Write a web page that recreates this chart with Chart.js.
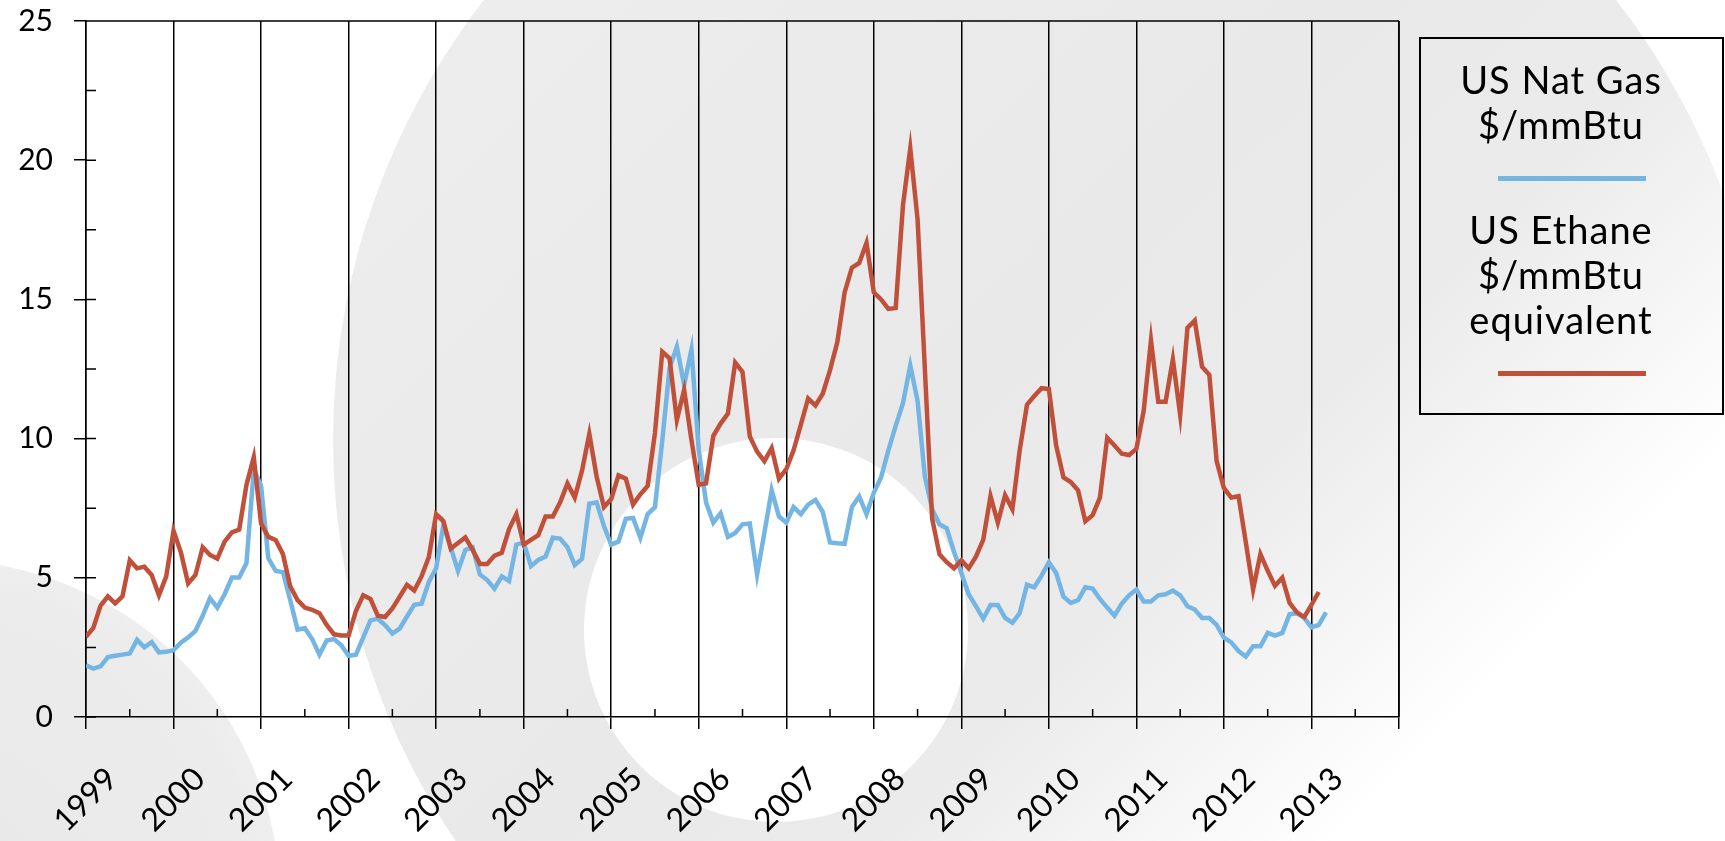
<!DOCTYPE html>
<html>
<head>
<meta charset="utf-8">
<script src="https://cdn.jsdelivr.net/npm/chart.js@4.4.1/dist/chart.umd.min.js"></script>
<style>
  html, body { margin: 0; padding: 0; background: #fff; }
  #wrap { position: relative; width: 1725px; height: 841px; overflow: hidden; background: #fff;
          font-family: Lato, "Open Sans", sans-serif; }
  .bg { position: absolute; border-radius: 50%; }
  #bgBig { left: 333px; top: -277px; width: 1434px; height: 1434px;
           background: linear-gradient(135deg, #efefef 0%, #e9e9e9 45%, #ebebeb 58%, #f6f6f6 67%, #ffffff 74%); }
  #bgHole { left: 584px; top: 438px; width: 384px; height: 384px;
            background: radial-gradient(circle, #ffffff 0, #ffffff 82%, rgba(255,255,255,0) 100%); }
  #bgLeft { left: -400px; top: 560px; width: 680px; height: 680px;
            background: radial-gradient(circle, #e8e8e8 0, #ececec 65%, #f5f5f5 88%, rgba(255,255,255,0) 100%); }
  #c { position: absolute; left: 0; top: 0; }
  #legendBox {
    position: absolute; left: 1419px; top: 37px; width: 305px; height: 378px;
    box-sizing: border-box; border: 2px solid #000;
  }
  .lg { position: absolute; left: 1419px; width: 284px; text-align: center;
        font-size: 38px; line-height: 45px; letter-spacing: 1px; color: #000; white-space: nowrap; }
  .sw { position: absolute; left: 1498px; width: 148px; height: 5px; }
</style>
</head>
<body>
<div id="wrap">
  <div class="bg" id="bgBig"></div>
  <div class="bg" id="bgHole"></div>
  <div class="bg" id="bgLeft"></div>
  <canvas id="c" width="1725" height="841"></canvas>
  <div id="legendBox"></div>
  <div class="lg" style="top:57px">US Nat Gas</div>
  <div class="lg" style="top:102px">$/mmBtu</div>
  <div class="sw" id="swBlue" style="top:176px"></div>
  <div class="lg" style="top:207px">US Ethane</div>
  <div class="lg" style="top:252px">$/mmBtu</div>
  <div class="lg" style="top:297px">equivalent</div>
  <div class="sw" id="swRed" style="top:371px"></div>
</div>
<script>
// ---- data (monthly, starting January 1999) ----
const startYear = 1999;
const yearTicks = [1999, 2000, 2001, 2002, 2003, 2004, 2005, 2006, 2007, 2008, 2009, 2010, 2011, 2012, 2013];

// US Nat Gas $/mmBtu, Jan 1999 .. Mar 2013
const natGas = [
  1.86, 1.74, 1.82, 2.15, 2.20, 2.24, 2.28, 2.77, 2.50, 2.69, 2.32, 2.34,   // 1999
  2.40, 2.67, 2.86, 3.09, 3.64, 4.27, 3.93, 4.41, 5.01, 5.01, 5.53, 8.90,   // 2000
  8.30, 5.70, 5.25, 5.20, 4.20, 3.14, 3.19, 2.80, 2.24, 2.75, 2.80, 2.58,   // 2001
  2.20, 2.24, 2.85, 3.47, 3.53, 3.30, 3.00, 3.17, 3.61, 4.03, 4.07, 4.85,   // 2002
  5.34, 6.90, 6.10, 5.25, 6.00, 6.10, 5.12, 4.92, 4.61, 5.05, 4.88, 6.19,   // 2003
  6.27, 5.42, 5.64, 5.76, 6.44, 6.41, 6.10, 5.46, 5.68, 7.66, 7.71, 6.86,   // 2004
  6.19, 6.30, 7.12, 7.15, 6.44, 7.29, 7.54, 9.92, 12.54, 13.30, 11.93, 13.20, // 2005
  9.60, 7.71, 6.98, 7.32, 6.47, 6.61, 6.92, 6.95, 5.12, 6.61, 8.14, 7.20,   // 2006
  6.98, 7.54, 7.29, 7.63, 7.80, 7.37, 6.27, 6.24, 6.22, 7.54, 7.92, 7.29,   // 2007
  8.05, 8.61, 9.58, 10.46, 11.27, 12.63, 11.36, 8.64, 7.46, 6.92, 6.78, 5.93, // 2008
  5.17, 4.41, 3.98, 3.53, 4.02, 4.02, 3.56, 3.39, 3.73, 4.75, 4.66, 5.08,   // 2009
  5.56, 5.17, 4.32, 4.10, 4.20, 4.66, 4.61, 4.24, 3.93, 3.64, 4.07, 4.37,   // 2010
  4.58, 4.15, 4.15, 4.37, 4.41, 4.54, 4.37, 3.98, 3.86, 3.56, 3.56, 3.31,   // 2011
  2.85, 2.68, 2.37, 2.17, 2.54, 2.54, 3.02, 2.92, 3.02, 3.69, 3.73, 3.56,   // 2012
  3.22, 3.31, 3.76                                                          // 2013
];

// US Ethane $/mmBtu equivalent, Jan 1999 .. Feb 2013
const ethane = [
  2.88, 3.20, 4.00, 4.33, 4.08, 4.33, 5.63, 5.34, 5.40, 5.10, 4.37, 5.05,   // 1999
  6.69, 5.92, 4.80, 5.10, 6.10, 5.82, 5.69, 6.30, 6.63, 6.73, 8.34, 9.33,   // 2000
  6.95, 6.47, 6.36, 5.85, 4.69, 4.20, 3.93, 3.85, 3.73, 3.31, 2.97, 2.93,   // 2001
  2.93, 3.81, 4.37, 4.24, 3.64, 3.59, 3.90, 4.32, 4.75, 4.54, 5.05, 5.75,   // 2002
  7.29, 7.03, 6.05, 6.25, 6.45, 6.00, 5.50, 5.50, 5.80, 5.90, 6.75, 7.29,   // 2003
  6.19, 6.36, 6.53, 7.20, 7.20, 7.71, 8.39, 7.88, 8.85, 10.17, 8.64, 7.54,  // 2004
  7.83, 8.68, 8.56, 7.63, 8.00, 8.30, 10.20, 13.12, 12.88, 10.67, 11.75, 9.95, // 2005
  8.34, 8.39, 10.10, 10.54, 10.90, 12.73, 12.40, 10.08, 9.53, 9.19, 9.66, 8.56, // 2006
  8.90, 9.58, 10.50, 11.44, 11.19, 11.61, 12.46, 13.47, 15.25, 16.14, 16.31, 17.03, // 2007
  15.25, 15.00, 14.66, 14.69, 18.39, 20.42, 17.88, 12.50, 7.12, 5.85, 5.56, 5.34,  // 2008
  5.63, 5.34, 5.76, 6.36, 7.93, 6.98, 7.97, 7.46, 9.58, 11.22, 11.53, 11.81,  // 2009
  11.78, 9.75, 8.61, 8.44, 8.14, 7.03, 7.25, 7.88, 10.03, 9.75, 9.46, 9.41,  // 2010
  9.63, 11.00, 13.53, 11.32, 11.32, 12.85, 10.85, 13.98, 14.24, 12.58, 12.29, 9.19, // 2011
  8.22, 7.88, 7.93, 6.27, 4.58, 5.85, 5.25, 4.71, 5.00, 4.10, 3.76, 3.59,  // 2012
  4.03, 4.49                                                               // 2013
];

const BLUE = '#74b5e4';
const RED = '#c0503a';
document.getElementById('swBlue').style.background = BLUE;
document.getElementById('swRed').style.background = RED;

const toPoints = arr => arr.map((v, i) => ({ x: startYear + i / 12, y: v }));

// frame + minor tick marks, positioned through the chart's own scales
const framePlugin = {
  id: 'frame',
  afterDraw(chart) {
    const { ctx, chartArea: a, scales: { x, y } } = chart;
    ctx.save();
    ctx.strokeStyle = '#000';
    ctx.lineWidth = 1.5;
    ctx.beginPath();
    ctx.moveTo(a.left, a.top); ctx.lineTo(a.right, a.top);
    ctx.moveTo(a.right, a.top); ctx.lineTo(a.right, a.bottom);
    for (let v = y.min; v <= y.max + 1e-9; v += 2.5) {
      const py = y.getPixelForValue(v);
      ctx.moveTo(a.left, py); ctx.lineTo(a.left + 10, py);
    }
    for (let v = x.min + 0.5; v < x.max; v += 1) {
      const px = x.getPixelForValue(v);
      ctx.moveTo(px, a.bottom); ctx.lineTo(px, a.bottom - 8);
    }
    ctx.stroke();
    ctx.restore();
  }
};

new Chart(document.getElementById('c'), {
  type: 'line',
  data: {
    datasets: [
      { label: 'US Nat Gas $/mmBtu', data: toPoints(natGas), borderColor: BLUE, borderWidth: 4.5,
        pointRadius: 0, fill: false, tension: 0, order: 2, borderJoinStyle: 'miter' },
      { label: 'US Ethane $/mmBtu equivalent', data: toPoints(ethane), borderColor: RED, borderWidth: 4.5,
        pointRadius: 0, fill: false, tension: 0, order: 1, borderJoinStyle: 'miter' }
    ]
  },
  options: {
    responsive: false,
    animation: false,
    devicePixelRatio: 1,
    layout: { padding: { top: 21, right: 326, left: 0, bottom: 0 } },
    plugins: { legend: { display: false }, tooltip: { enabled: false } },
    scales: {
      x: {
        type: 'linear', min: 1999, max: 2014,
        afterBuildTicks: s => { s.ticks = yearTicks.concat([2014]).map(v => ({ value: v })); },
        ticks: {
          autoSkip: false, minRotation: 45, maxRotation: 45,
          font: { family: 'Lato', size: 32 }, color: '#000',
          padding: 31, labelOffset: 26,
          callback: v => (yearTicks.includes(v) ? String(v) : '')
        },
        grid: { color: '#000', lineWidth: 1.5, drawTicks: true, tickLength: 12, tickColor: '#000', tickWidth: 1.5 },
        border: { display: true, color: '#000', width: 1.5 },
        afterFit: s => { s.height = 124; s.paddingLeft = 0; s.paddingRight = 0; }
      },
      y: {
        min: 0, max: 25,
        ticks: { stepSize: 5, font: { family: 'Lato', size: 30 }, color: '#000', padding: 21 },
        grid: { drawOnChartArea: false, drawTicks: true, tickLength: 12, color: '#000', lineWidth: 1.5 },
        border: { display: true, color: '#000', width: 1.5 },
        afterFit: s => { s.width = 86; s.paddingTop = 0; s.paddingBottom = 0; }
      }
    }
  },
  plugins: [framePlugin]
});
</script>
</body>
</html>
